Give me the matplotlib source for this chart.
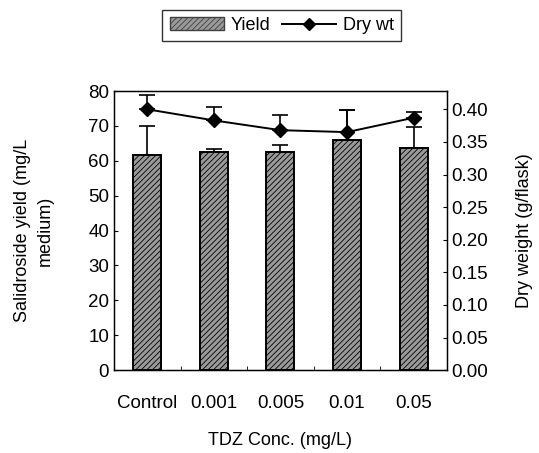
import numpy as np
import matplotlib.pyplot as plt
from matplotlib.lines import Line2D
from matplotlib.patches import Patch

plt.rcParams['font.family'] = ['Liberation Sans', 'DejaVu Sans']
plt.rcParams['hatch.color'] = '#404040'
plt.rcParams['hatch.linewidth'] = 0.6

categories = ["Control", "0.001", "0.005", "0.01", "0.05"]
yield_vals = [61.8, 62.4, 62.6, 66.0, 63.8]
yield_err = [8.2, 0.9, 1.9, 8.6, 6.0]
dry_wt = [0.400, 0.383, 0.368, 0.365, 0.387]
dry_err = [0.022, 0.021, 0.024, 0.034, 0.009]

fig = plt.figure(figsize=(5.39, 4.53), dpi=100)
ax = fig.add_axes([0.2115, 0.183, 0.6175, 0.616])
x = np.arange(len(categories))

ax.bar(x, yield_vals, width=0.42, color='#9a9a9a', edgecolor='black',
       linewidth=1.4, hatch='//////', zorder=2)
ax.errorbar(x, yield_vals, yerr=[np.zeros(len(x)), yield_err], fmt='none',
            ecolor='black', elinewidth=1.2, capsize=6, capthick=1.2, zorder=3)
ax.set_xlim(-0.5, 4.5)
ax.set_ylim(0, 80)
ax.set_yticks(range(0, 81, 10))
ax.set_xticks(x)
ax.set_xticklabels(categories)
ax.set_xticks(np.arange(-0.5, 5, 1), minor=True)
ax.tick_params(axis='x', which='major', length=0, pad=18, labelsize=13.5)
ax.tick_params(axis='x', which='minor', direction='in', length=3)
ax.tick_params(axis='y', direction='in', length=3, labelsize=13.5)
ax.set_xlabel("TDZ Conc. (mg/L)", fontsize=13, labelpad=14)
ax.set_ylabel("Salidroside yield (mg/L\nmedium)", fontsize=13, labelpad=25,
              linespacing=1.45)
for s in ax.spines.values():
    s.set_linewidth(1.0)

ax2 = ax.twinx()
ax2.errorbar(x, dry_wt, yerr=[np.zeros(len(x)), dry_err], fmt='none',
             ecolor='black', elinewidth=1.2, capsize=6, capthick=1.2, zorder=3)
ax2.plot(x, dry_wt, color='black', linewidth=1.4, marker='D', markersize=7,
         zorder=4)
ax2.set_ylim(0, 0.428)
ax2.set_yticks(np.arange(0, 0.41, 0.05))
ax2.set_yticklabels(["%.2f" % v for v in np.arange(0, 0.41, 0.05)])
ax2.tick_params(axis='y', direction='in', length=3, labelsize=13.5)
ax2.set_ylabel("Dry weight (g/flask)", fontsize=13, labelpad=20)

handles = [Patch(facecolor='#9a9a9a', edgecolor='#404040', hatch='//////'),
           Line2D([], [], color='black', marker='D', markersize=6, linewidth=1.4)]
fig.legend(handles, ["Yield", "Dry wt"], loc='center', ncol=2,
           bbox_to_anchor=(0.523, 0.944), fontsize=13, frameon=True,
           fancybox=False, edgecolor='black', handlelength=3.0,
           columnspacing=0.6, handletextpad=0.4, borderpad=0.4)

plt.savefig("out.png")
